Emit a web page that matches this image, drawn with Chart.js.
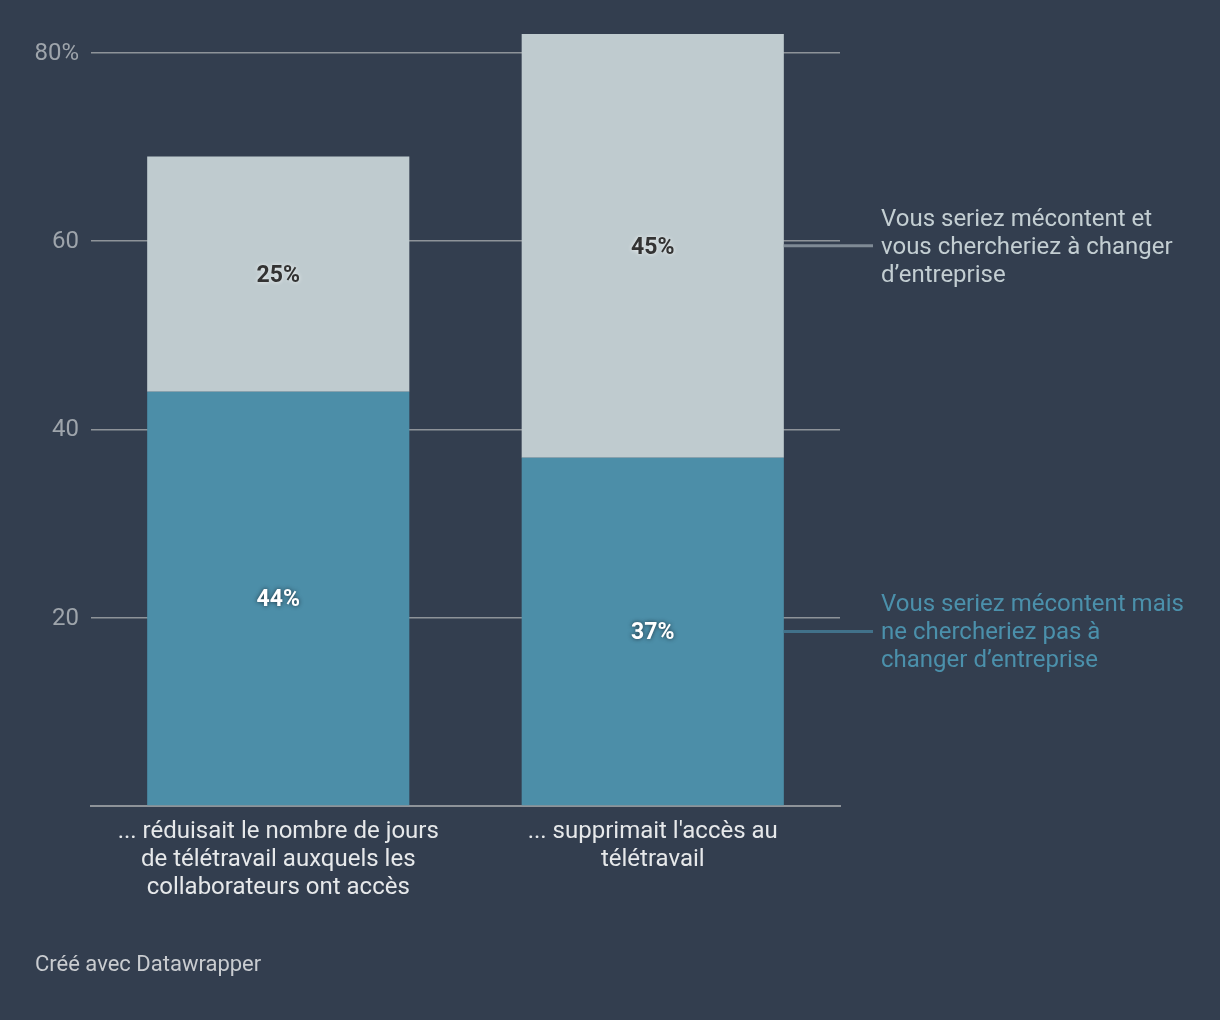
<!DOCTYPE html>
<html><head><meta charset="utf-8">
<script src="https://cdn.jsdelivr.net/npm/chart.js@4"></script>
<style>
html,body{margin:0;padding:0;background:#333e4f;}
#wrap{position:relative;width:1220px;height:1020px;}
canvas{position:absolute;left:0;top:0;}
#foot{position:absolute;left:35px;top:951px;font:22px Roboto,sans-serif;color:#c9ccd0;}
</style></head>
<body>
<div id="wrap"><canvas id="c" width="1220" height="1020"></canvas><div id="foot">Créé avec Datawrapper</div></div>
<script>
const categories = [
  ["... réduisait le nombre de jours","de télétravail auxquels les","collaborateurs ont accès"],
  ["... supprimait l'accès au","télétravail"]
];
const seriesNames = [
  ["Vous seriez mécontent mais","ne chercheriez pas à","changer d’entreprise"],
  ["Vous seriez mécontent et","vous chercheriez à changer","d’entreprise"]
];
const valuesStay = [44, 37];
const valuesLeave = [25, 45];
const yTicks = [0, 20, 40, 60, 80];
const yTickLabels = ["", "20", "40", "60", "80%"];

const barColors = ["#4c8ea8", "#bfcbcf"];
const labelColors = ["#4b90ab", "#c3ced2"];
const connectorColors = ["#41718a", "#7f8a95"];

const overlay = {
  id: 'overlay',
  afterDatasetsDraw(chart) {
    const ctx = chart.ctx;
    ctx.save();
    chart.data.datasets.forEach((ds, di) => {
      const meta = chart.getDatasetMeta(di);
      meta.data.forEach((el, j) => {
        const cy = (el.y + el.base) / 2 + 2;
        ctx.font = 'bold 23px Roboto, sans-serif';
        ctx.textAlign = 'center';
        ctx.textBaseline = 'middle';
        if (di === 0) {
          ctx.shadowColor = 'rgba(20,30,40,0.8)';
          ctx.fillStyle = '#ffffff';
        } else {
          ctx.shadowColor = 'rgba(255,255,255,0.8)';
          ctx.fillStyle = '#333333';
        }
        ctx.shadowBlur = 4;
        ctx.fillText(ds.data[j] + '%', el.x, cy);
        ctx.shadowBlur = 0;
      });
      const last = meta.data[meta.data.length - 1];
      const ly = (last.y + last.base) / 2;
      const x0 = last.x + last.width / 2;
      ctx.strokeStyle = connectorColors[di];
      ctx.lineWidth = 3;
      ctx.beginPath();
      ctx.moveTo(x0, ly);
      ctx.lineTo(873, ly);
      ctx.stroke();
      ctx.font = '24px Roboto, sans-serif';
      ctx.textAlign = 'left';
      ctx.textBaseline = 'middle';
      ctx.fillStyle = labelColors[di];
      const lines = seriesNames[di];
      lines.forEach((t, k) => {
        ctx.fillText(t, 881, ly + (k - 1) * 28 + 2);
      });
    });
    ctx.restore();
  }
};

new Chart(document.getElementById('c'), {
  type: 'bar',
  data: {
    labels: categories,
    datasets: [
      { label: seriesNames[0].join(' '), data: valuesStay, backgroundColor: barColors[0] },
      { label: seriesNames[1].join(' '), data: valuesLeave, backgroundColor: barColors[1] }
    ]
  },
  options: {
    responsive: false,
    animation: false,
    devicePixelRatio: 1,
    barPercentage: 0.7,
    categoryPercentage: 1,
    layout: { padding: { left: 0, right: 380, top: 34, bottom: 0 } },
    plugins: { legend: { display: false }, tooltip: { enabled: false } },
    scales: {
      x: {
        stacked: true,
        grid: { display: false, drawTicks: false },
        border: { display: true, color: '#8e9399', width: 2 },
        ticks: { color: '#e6e8ea', font: { family: 'Roboto', size: 24, lineHeight: 1.1667 }, padding: 12, maxRotation: 0, autoSkip: false },
        afterFit(s) { s.height = 214; }
      },
      y: {
        stacked: true,
        min: 0, max: 82,
        grid: { color: '#8e9399', lineWidth: 1.5, drawTicks: false },
        border: { display: false },
        afterBuildTicks(s) { s.ticks = yTicks.map(v => ({ value: v })); },
        ticks: {
          color: '#9ea4ab', font: { family: 'Roboto', size: 24 }, padding: 12, labelOffset: 1,
          callback(v) { const i = yTicks.indexOf(v); return i >= 0 ? yTickLabels[i] : ''; }
        },
        afterFit(s) { s.width = 91; }
      }
    }
  },
  plugins: [overlay]
});
</script>
</body></html>
